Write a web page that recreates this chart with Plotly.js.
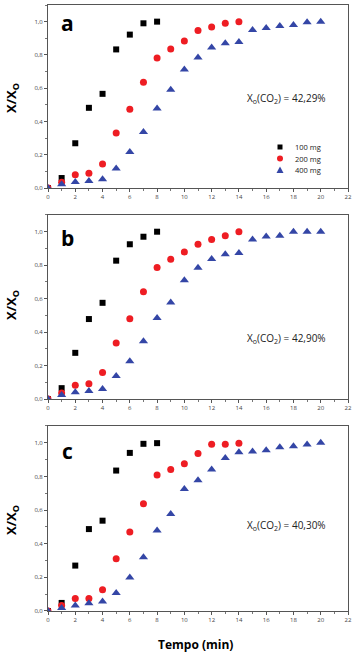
<!DOCTYPE html>
<html><head><meta charset="utf-8">
<script src="https://cdn.plot.ly/plotly-3.0.1.min.js"></script>
<style>html,body{margin:0;padding:0;background:#fff}#chart{width:359px;height:654px}</style>
</head><body><div id="chart"></div>
<script>
const t100 = [0,1,2,3,4,5,6,7,8];
const t200 = [0,1,2,3,4,5,6,7,8,9,10,11,12,13,14];
const t400 = [0,1,2,3,4,5,6,7,8,9,10,11,12,13,14,15,16,17,18,19,20];

const a100 = [0,0.060,0.269,0.482,0.566,0.833,0.922,0.990,1.000];
const a200 = [0,0.034,0.080,0.088,0.145,0.331,0.474,0.635,0.781,0.835,0.884,0.946,0.968,0.990,1.000];
const a400 = [0,0.022,0.036,0.042,0.052,0.118,0.217,0.337,0.478,0.590,0.713,0.785,0.845,0.870,0.878,0.950,0.962,0.974,0.980,0.996,1.000];

const b100 = [0,0.065,0.276,0.478,0.575,0.827,0.925,0.970,1.000];
const b200 = [0,0.036,0.083,0.091,0.159,0.335,0.480,0.641,0.786,0.835,0.879,0.925,0.954,0.976,1.000];
const b400 = [0,0.024,0.040,0.048,0.060,0.137,0.226,0.345,0.484,0.577,0.710,0.784,0.837,0.865,0.873,0.954,0.972,0.976,1.000,1.000,1.000];

const c100 = [0,0.048,0.270,0.487,0.537,0.835,0.940,0.994,0.998];
const c200 = [0,0.032,0.074,0.074,0.127,0.310,0.469,0.638,0.809,0.841,0.875,0.936,0.992,0.992,0.998];
const c400 = [0,0.018,0.032,0.046,0.056,0.107,0.199,0.320,0.479,0.577,0.726,0.777,0.841,0.909,0.944,0.948,0.956,0.974,0.980,0.990,1.000];

const seriesNames = ['100 mg','200 mg','400 mg'];
const panelLetters = ['a','b','c'];
const x0Labels = ['X<sub>o</sub>(CO<sub>2</sub>) = 42,29%','X<sub>o</sub>(CO<sub>2</sub>) = 42,90%','X<sub>o</sub>(CO<sub>2</sub>) = 40,30%'];

const panels = [[a100,a200,a400],[b100,b200,b400],[c100,c200,c400]];
const times = [t100,t200,t400];
const styles = [
  {symbol:'square', color:'#000000', size:6},
  {symbol:'circle', color:'#ee1d23', size:7},
  {symbol:'triangle-up', color:'#3446a6', size:8}
];

const traces = [];
panels.forEach((p, pi) => {
  p.forEach((ys, si) => {
    traces.push({
      x: times[si], y: ys, type:'scatter', mode:'markers',
      name: seriesNames[si], showlegend: false,
      xaxis: pi === 0 ? 'x' : 'x' + (pi+1),
      yaxis: pi === 0 ? 'y' : 'y' + (pi+1),
      marker: {symbol: styles[si].symbol, color: styles[si].color, size: styles[si].size, line:{width:0}}
    });
  });
});

const domains = [[0.698,1.0],[0.3498,0.6535],[0,0.3053]];
const FONT = 'Open Sans, DejaVu Sans, sans-serif';
const tickFont = {family:FONT, size:6, color:'#444'};
function xax(i){
  return {domain:[0,1], range:[0,22], anchor: i===0?'y':'y'+(i+1), dtick:2, tick0:0,
    ticks:'outside', ticklen:3, tickwidth:1, tickcolor:'#555',
    minor:{dtick:1, ticks:'outside', ticklen:2, tickcolor:'#777'},
    showline:true, linecolor:'#555', linewidth:1, mirror:true, showgrid:false, zeroline:false,
    tickfont: tickFont};
}
function yax(i){
  return {domain: domains[i], range:[0,1.1], anchor: i===0?'x':'x'+(i+1), dtick:0.2, tick0:0,
    tickformat:'.1f',
    ticks:'outside', ticklen:3, tickwidth:1, tickcolor:'#555',
    minor:{dtick:0.1, ticks:'outside', ticklen:2, tickcolor:'#777'},
    showline:true, linecolor:'#555', linewidth:1, mirror:true, showgrid:false, zeroline:false,
    tickfont: tickFont};
}

const annotations = [];
const shapes = [];
const letterY = [23, 238, 451];
const labelY = [98, 338, 525];
const yTitleY = [98, 305, 520];
const FIG_H = 654, MB = 43, PLOT_H = 654 - 5 - 43;
const toPaperY = py => (FIG_H - MB - py) / PLOT_H;
const toPaperX = px => (px - 48) / 300;
for (let i = 0; i < 3; i++) {
  annotations.push({text: panelLetters[i], xref:'paper', yref:'paper', x: toPaperX(67), y: toPaperY(letterY[i]),
    showarrow:false, font:{family:FONT, size:21, color:'#000', weight:'bold'}, xanchor:'center', yanchor:'middle'});
  annotations.push({text: x0Labels[i], xref:'paper', yref:'paper', x: toPaperX(286), y: toPaperY(labelY[i]),
    showarrow:false, font:{family:FONT, size:10, color:'#222'}, xanchor:'center', yanchor:'middle'});
  annotations.push({text: 'X/X<sub>O</sub>', xref:'paper', yref:'paper', x: toPaperX(12), y: toPaperY(yTitleY[i]),
    showarrow:false, textangle:-90, font:{family:FONT, size:13, color:'#000', weight:'bold'}, xanchor:'center', yanchor:'middle'});
}
annotations.push({text:'Tempo (min)', xref:'paper', yref:'paper', x: toPaperX(195), y: toPaperY(645),
  showarrow:false, font:{family:FONT, size:12, color:'#000', weight:'bold'}, xanchor:'center', yanchor:'middle'});

// manual legend (compact, as in the reference)
const legRows = [147, 158.5, 170];
const legX = 280;
seriesNames.forEach((nm, si) => {
  const cy = legRows[si];
  annotations.push({text: nm, xref:'paper', yref:'paper', x: toPaperX(293), y: toPaperY(cy),
    showarrow:false, font:{family:FONT, size:7.5, color:'#222'}, xanchor:'left', yanchor:'middle'});
  const c = styles[si].color;
  if (si === 0) {
    shapes.push({type:'rect', xref:'paper', yref:'paper', x0: toPaperX(legX-2.5), x1: toPaperX(legX+2.5),
      y0: toPaperY(cy+2.5), y1: toPaperY(cy-2.5), fillcolor:c, line:{width:0}});
  } else if (si === 1) {
    shapes.push({type:'circle', xref:'paper', yref:'paper', x0: toPaperX(legX-3), x1: toPaperX(legX+3),
      y0: toPaperY(cy+3), y1: toPaperY(cy-3), fillcolor:c, line:{width:0}});
  } else {
    const W = 359, ML = 48;
    shapes.push({type:'path', xref:'paper', yref:'paper',
      path: `M ${toPaperX(legX-3.5)},${toPaperY(cy+3)} L ${toPaperX(legX+3.5)},${toPaperY(cy+3)} L ${toPaperX(legX)},${toPaperY(cy-3.5)} Z`,
      fillcolor:c, line:{width:0}});
  }
});

const layout = {
  width:359, height:654, margin:{l:48, r:11, t:5, b:43},
  paper_bgcolor:'#fff', plot_bgcolor:'#fff', separators:',.',
  showlegend:false,
  xaxis: xax(0), xaxis2: xax(1), xaxis3: xax(2),
  yaxis: yax(0), yaxis2: yax(1), yaxis3: yax(2),
  annotations: annotations, shapes: shapes
};
Plotly.newPlot('chart', traces, layout, {displayModeBar:false, staticPlot:true});
</script></body></html>
